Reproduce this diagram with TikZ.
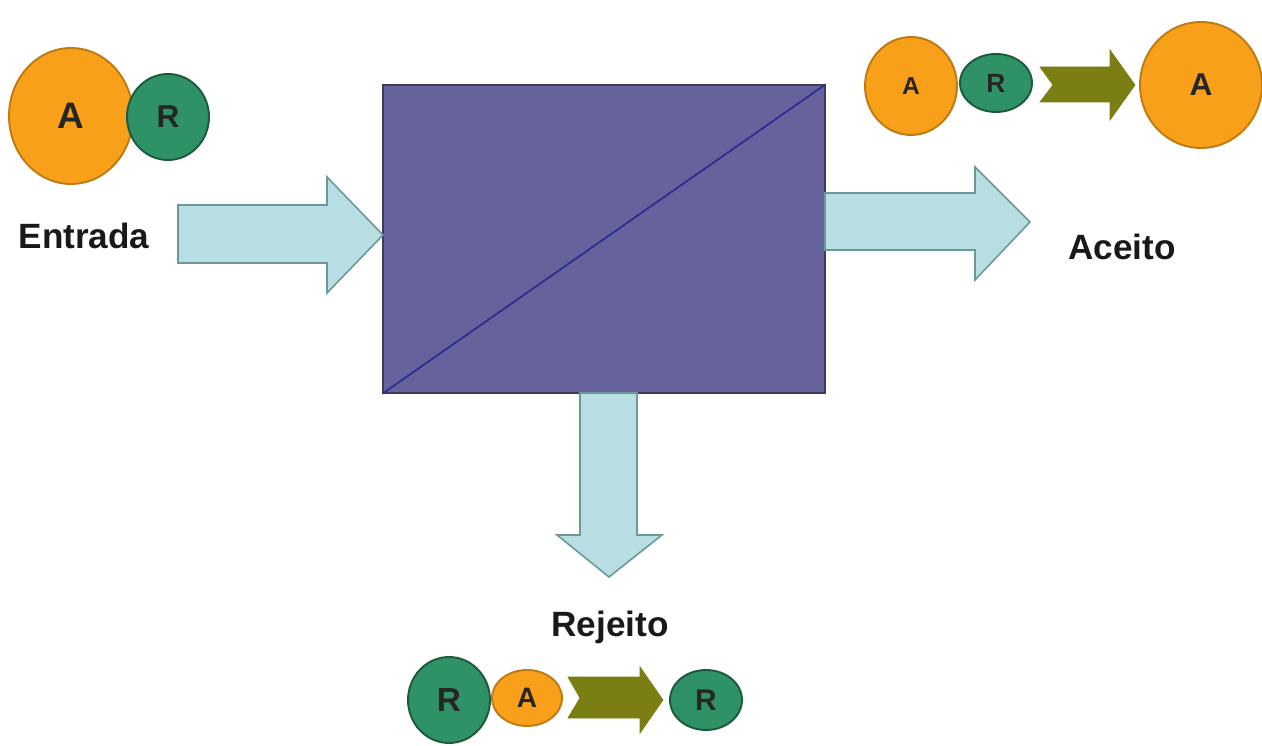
\documentclass[tikz,border=0pt]{standalone}
\usepackage{fontspec}
\setmainfont{Liberation Sans}
\usetikzlibrary{shapes.geometric}

\definecolor{ballorange}{HTML}{F9A01B}
\definecolor{ballorangeline}{HTML}{C07A12}
\definecolor{ballgreen}{HTML}{2F9166}
\definecolor{ballgreenline}{HTML}{1C5A3C}
\definecolor{flowblue}{HTML}{B8DEE4}
\definecolor{flowblueline}{HTML}{6C979B}
\definecolor{membrane}{HTML}{66629C}
\definecolor{membraneline}{HTML}{3E3C58}
\definecolor{diagline}{HTML}{2B2D8F}
\definecolor{olive}{HTML}{7B7E12}

\tikzset{
    ball/.style={ellipse, draw, line width=1.1pt, inner sep=0pt, text=black!85, font=\bfseries},
    ballA/.style={ball, fill=ballorange, draw=ballorangeline},
    ballR/.style={ball, fill=ballgreen, draw=ballgreenline},
    flow/.style={fill=flowblue, draw=flowblueline, line width=0.9pt, line join=miter},
    label/.style={font=\fontsize{20}{24}\selectfont\bfseries, text=black!90}
}

\begin{document}
\begin{tikzpicture}[x=0.02cm, y=-0.02cm]
    \useasboundingbox (0,0) rectangle (1262,746);

    % Membrane box
    \node[draw=membraneline, fill=membrane, line width=0.9pt, minimum width=8.84cm, minimum height=6.16cm] (box) at (604,239) {};
    \draw[diagline, line width=1pt] (box.south west) -- (box.north east);

    % Flow arrows
    \draw[flow] (178,205) -- (327,205) -- (327,177) -- (383,235) -- (327,293) -- (327,263) -- (178,263) -- cycle;
    \draw[flow] (825,193) -- (975,193) -- (975,167) -- (1030,222) -- (975,280) -- (975,250) -- (825,250) -- cycle;
    \draw[flow] (580,393) -- (580,535) -- (557,535) -- (609,577) -- (662,535) -- (637,535) -- (637,393) -- cycle;

    % Labels
    \node[label] (entrada) at (84,236) {Entrada};
    \node[label] (aceito) at (1122,247) {Aceito};
    \node[label] (rejeito) at (610,627) {Rejeito};

    % Feed: A + R
    \node[ballA, minimum width=2.48cm, minimum height=2.72cm, font=\fontsize{21}{24}\selectfont\bfseries] (inA) at (71,116) {A};
    \node[ballR, minimum width=1.64cm, minimum height=1.72cm, font=\fontsize{18}{22}\selectfont\bfseries] (inR) at (168,117) {R};

    % Accepted: A + R -> A
    \node[ballA, minimum width=1.84cm, minimum height=1.96cm, font=\fontsize{14}{17}\selectfont\bfseries] (acA) at (911,86) {A};
    \node[ballR, minimum width=1.44cm, minimum height=1.16cm, font=\fontsize{15}{18}\selectfont\bfseries] (acR) at (996,83) {R};
    \draw[fill=olive, draw=olive] (1040,67) -- (1110,67) -- (1110,50) -- (1135,85) -- (1110,120) -- (1110,102) -- (1040,102) -- (1053,85) -- cycle;
    \node[ballA, minimum width=2.44cm, minimum height=2.52cm, font=\fontsize{18}{22}\selectfont\bfseries] (acOut) at (1201,85) {A};

    % Rejected: R + A -> R
    \node[ballR, minimum width=1.64cm, minimum height=1.72cm, font=\fontsize{19}{22}\selectfont\bfseries] (rjR) at (449,700) {R};
    \node[ballA, minimum width=1.40cm, minimum height=1.12cm, font=\fontsize{16}{19}\selectfont\bfseries] (rjA) at (527,698) {A};
    \draw[fill=olive, draw=olive] (568,677) -- (640,677) -- (640,667) -- (663,700) -- (640,733) -- (640,718) -- (568,718) -- (580,698) -- cycle;
    \node[ballR, minimum width=1.44cm, minimum height=1.20cm, font=\fontsize{17}{20}\selectfont\bfseries] (rjOut) at (706,700) {R};
\end{tikzpicture}
\end{document}
